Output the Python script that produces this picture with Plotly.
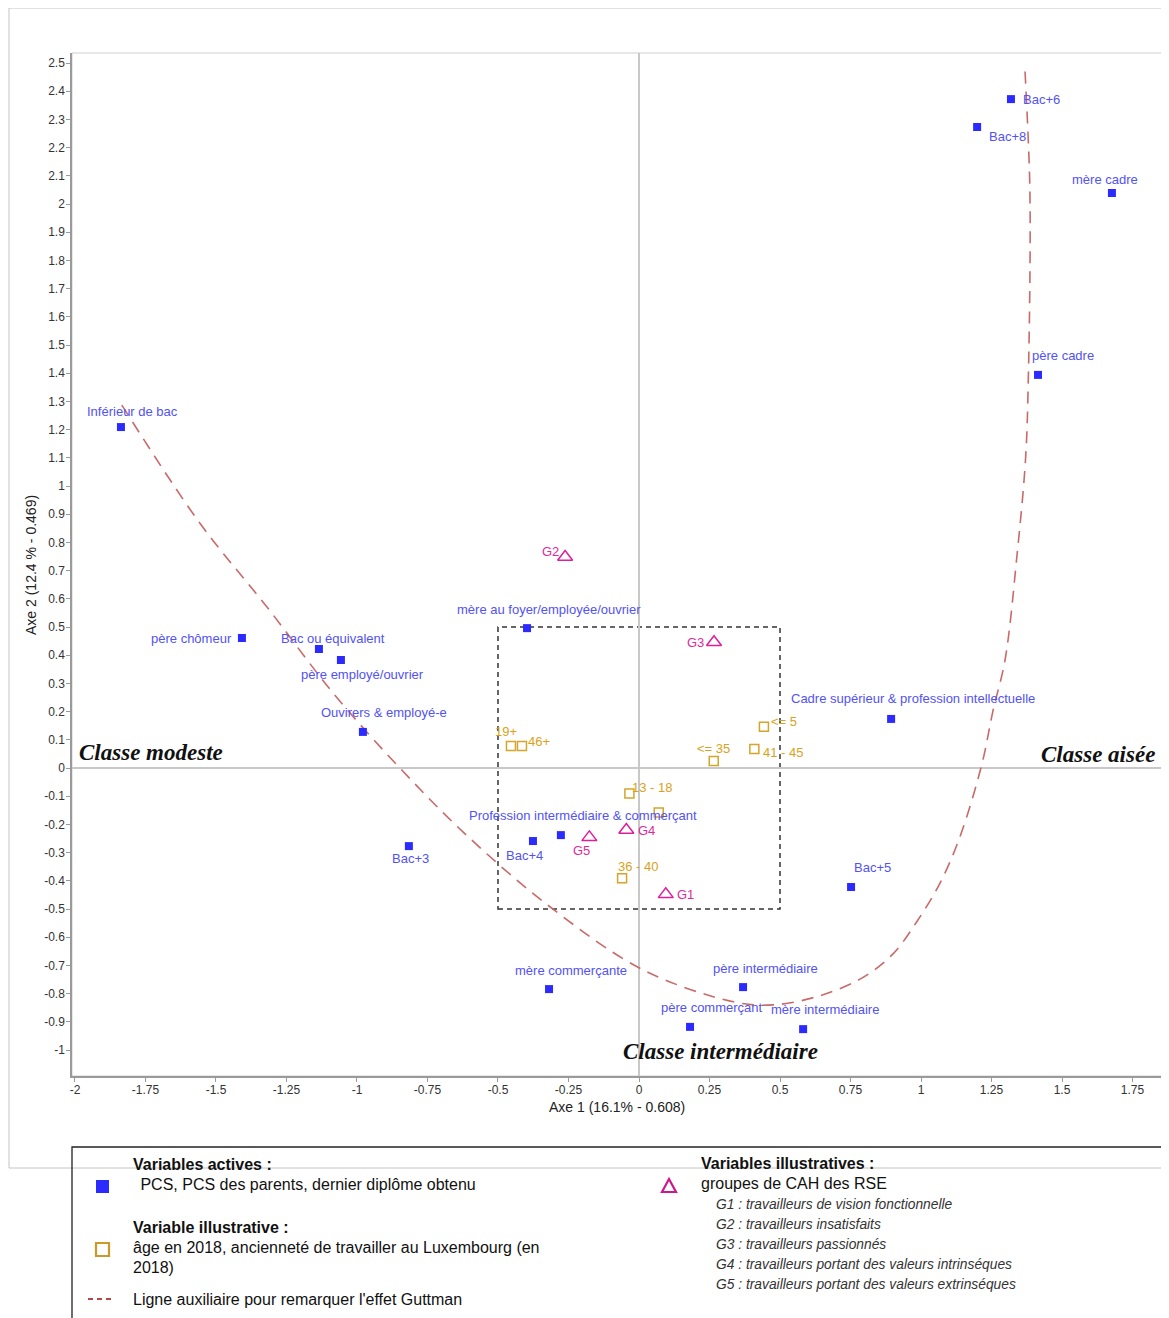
import plotly.graph_objects as go

# ---------------- data ----------------
active_names = ["Inférieur de bac", "Bac+6", "Bac+8", "mère cadre", "père cadre",
                "père chômeur", "Bac ou équivalent", "père employé/ouvrier",
                "Ouvirers & employé-e", "mère au foyer/employée/ouvrier",
                "Cadre supérieur & profession intellectuelle", "Bac+3", "Bac+4",
                "Profession intermédiaire & commerçant", "Bac+5", "mère commerçante",
                "père intermédiaire", "père commerçant", "mère intermédiaire"]
active_x = [-1.837, 1.319, 1.199, 1.677, 1.415, -1.408, -1.135, -1.057, -0.979, -0.397,
            0.894, -0.816, -0.376, -0.277, 0.752, -0.319, 0.369, 0.181, 0.582]
active_y = [1.209, 2.372, 2.273, 2.039, 1.394, 0.461, 0.422, 0.383, 0.128, 0.496,
            0.174, -0.277, -0.259, -0.238, -0.422, -0.784, -0.777, -0.918, -0.926]

age_names = ["19+", "46+", "<= 5", "41 - 45", "<= 35", "13 - 18", "", "36 - 40"]
age_x = [-0.454, -0.415, 0.443, 0.409, 0.265, -0.034, 0.070, -0.060]
age_y = [0.078, 0.078, 0.146, 0.067, 0.025, -0.090, -0.158, -0.391]

group_names = ["G2", "G3", "G4", "G5", "G1"]
group_x = [-0.262, 0.266, -0.045, -0.176, 0.095]
group_y = [0.748, 0.446, -0.220, -0.246, -0.448]

guttman_x = [-1.834, -1.557, -1.320, -1.084, -0.848, -0.612, -0.316, 0.015, 0.335, 0.476,
             0.640, 0.790, 0.900, 0.985, 1.067, 1.138, 1.215, 1.256, 1.298, 1.340,
             1.371, 1.381, 1.387, 1.385, 1.369]
guttman_y = [1.287, 0.868, 0.572, 0.265, 0.0, -0.238, -0.492, -0.716, -0.829, -0.840,
             -0.808, -0.745, -0.660, -0.545, -0.409, -0.244, 0.010, 0.206, 0.383, 0.750,
             1.100, 1.400, 1.870, 2.100, 2.470]

x_tickvals = [-2, -1.75, -1.5, -1.25, -1, -0.75, -0.5, -0.25, 0, 0.25, 0.5, 0.75, 1, 1.25, 1.5, 1.75]
x_ticktext = ["-2", "-1.75", "-1.5", "-1.25", "-1", "-0.75", "-0.5", "-0.25", "0",
              "0.25", "0.5", "0.75", "1", "1.25", "1.5", "1.75"]
y_tickvals = [round(-1 + 0.1 * i, 1) for i in range(36)]
y_ticktext = [("%g" % v) for v in y_tickvals]

# ---------------- label placement (styles) ----------------
active_lbl = [("center", 12, 16), ("left", 10, 0), ("left", 10, -9), ("center", -7, 14),
              ("left", -8, 19), ("right", -8, 0), ("center", 14, 11), ("center", 22, -14),
              ("center", 21, 19), ("center", 22, 19), ("center", 22, 20), ("center", 2, -12),
              ("center", -8, -14), ("center", 22, 20), ("center", 21, 20), ("center", 22, 19),
              ("center", 22, 19), ("center", 22, 19), ("center", 22, 20)]
age_lbl = [("center", -5, 15), ("left", 4, 5), ("left", 5, 5), ("left", 7, -3),
           ("center", 0, 12), ("left", 1, 6), ("left", 0, 0), ("center", 16, 12)]
group_lbl = [("right", -4, 6), ("right", -8, 0), ("left", 10, 0), ("center", -8, -13),
             ("left", 9, 0)]

BLUE_M = "#2b2bff"
BLUE_T = "#5252f5"
GOLD_M = "#d4a52a"
GOLD_T = "#d9a21c"
MAG_M = "#dd1f9b"
MAG_T = "#dd2a9c"
RED = "#c96a6a"
FONT = "Liberation Sans, Arial, sans-serif"

# page is offset by the 8px body margin
OFF = 8
W, H = 1169 - OFF, 1318 - OFF
L, R, T, B = 72 - OFF, 7, 53 - OFF, 242
PW, PH = W - L - R, H - T - B


def px(xp, yp):
    # page pixel -> paper coords
    return (xp - OFF - L) / PW, (H - B - (yp - OFF)) / PH


fig = go.Figure()

fig.add_trace(go.Scatter(x=guttman_x, y=guttman_y, mode="lines",
                         line=dict(color=RED, width=1.6, dash="12px,8px", shape="spline", smoothing=1.0),
                         hoverinfo="skip", showlegend=False))
fig.add_trace(go.Scatter(x=active_x, y=active_y, mode="markers", text=active_names,
                         marker=dict(symbol="square", size=8, color=BLUE_M),
                         showlegend=False))
fig.add_trace(go.Scatter(x=age_x, y=age_y, mode="markers", text=age_names,
                         marker=dict(symbol="square-open", size=9, color=GOLD_M, line=dict(width=1.5)),
                         showlegend=False))
fig.add_trace(go.Scatter(x=group_x, y=group_y, mode="markers", text=group_names,
                         marker=dict(symbol="triangle-up-open", size=13, color=MAG_M, line=dict(width=1.5)),
                         showlegend=False))

ann = []
for names, xs, ys, lbl, col in [(active_names, active_x, active_y, active_lbl, BLUE_T),
                                (age_names, age_x, age_y, age_lbl, GOLD_T),
                                (group_names, group_x, group_y, group_lbl, MAG_T)]:
    for n, x, y, (a, dx, dy) in zip(names, xs, ys, lbl):
        if not n:
            continue
        ann.append(dict(x=x, y=y, text=n, showarrow=False, xanchor=a, yanchor="middle",
                        xshift=dx, yshift=dy, font=dict(family=FONT, size=13, color=col)))

# quadrant labels
qfont = dict(family="Liberation Serif, Times New Roman, serif", size=23, color="#111")
ann.append(dict(x=-2.0, y=0, text="<b><i>Classe modeste</i></b>", showarrow=False,
                xanchor="left", yanchor="middle", xshift=2, yshift=16, font=qfont))
ann.append(dict(x=1.838, y=0, text="<b><i>Classe aisée</i></b>", showarrow=False,
                xanchor="right", yanchor="middle", yshift=14, font=qfont))
ann.append(dict(x=0.29, y=-1.004, text="<b><i>Classe intermédiaire</i></b>", showarrow=False,
                xanchor="center", yanchor="middle", font=qfont))

# axis titles
tx, ty = px(617, 1107)
ann.append(dict(x=tx, y=ty, xref="paper", yref="paper", text="Axe 1 (16.1% - 0.608)",
                showarrow=False, xanchor="center", yanchor="middle",
                font=dict(family=FONT, size=14, color="#222")))
tx, ty = px(31, 565)
ann.append(dict(x=tx, y=ty, xref="paper", yref="paper", text="Axe 2 (12.4 % - 0.469)",
                showarrow=False, xanchor="center", yanchor="middle", textangle=-90,
                font=dict(family=FONT, size=14, color="#222")))


# legend texts
def ltext(xp, yp, text, size=16, color="#111", anchor="left"):
    x, y = px(xp, yp)
    ann.append(dict(x=x, y=y, xref="paper", yref="paper", text=text, showarrow=False,
                    xanchor=anchor, yanchor="middle",
                    font=dict(family=FONT, size=size, color=color)))


ltext(131, 1164, "<b>Variables actives :</b>")
ltext(134, 1184, " PCS, PCS des parents, dernier diplôme obtenu")
ltext(131, 1227, "<b>Variable illustrative :</b>")
ltext(131, 1247, "âge en 2018, ancienneté de travailler au Luxembourg (en")
ltext(131, 1267, "2018)")
ltext(131, 1299, "Ligne auxiliaire pour remarquer l'effet Guttman")
ltext(699, 1163, "<b>Variables illustratives :</b>")
ltext(699, 1183, "groupes de CAH des RSE")
for i, t in enumerate(["G1 : travailleurs de vision fonctionnelle",
                       "G2 : travailleurs insatisfaits",
                       "G3 : travailleurs passionnés",
                       "G4 : travailleurs portant des valeurs intrinséques",
                       "G5 : travailleurs portant des valeurs extrinséques"]):
    ltext(714, 1204 + 20 * i, "<i>" + t + "</i>", size=13.8, color="#333")

shapes = []
# dashed box
shapes.append(dict(type="rect", xref="x", yref="y", x0=-0.5, x1=0.5, y0=-0.5, y1=0.5,
                   line=dict(color="#333", width=1.5, dash="5px,4px"), layer="below"))
# top/right frame of plot
shapes.append(dict(type="rect", xref="paper", yref="paper", x0=0, x1=1, y0=0, y1=1,
                   line=dict(color="#cfcfcf", width=1), layer="below"))


def prect(x0, y0, x1, y1, **kw):
    a, b = px(x0, y0)
    c, d = px(x1, y1)
    shapes.append(dict(type="rect", xref="paper", yref="paper", x0=a, x1=c, y0=d, y1=b, **kw))


# outer frame
prect(9, 8, 1167.5, 1168, line=dict(color="#c4c4c4", width=1))
# legend frame
prect(72, 1147, 1163, 1345, line=dict(color="#222", width=1.3))
# legend markers
prect(96, 1180, 109, 1193, line=dict(width=0), fillcolor=BLUE_M)
prect(96, 1243, 109, 1256, line=dict(color="#c89a28", width=2.2), fillcolor="white")
a, b = px(88, 1299)
c, d = px(114, 1299)
shapes.append(dict(type="line", xref="paper", yref="paper", x0=a, x1=c, y0=b, y1=d,
                   line=dict(color="#b04848", width=2, dash="5px,4px")))
p1, p2, p3 = px(662, 1192), px(676, 1192), px(669, 1179)
shapes.append(dict(type="path", xref="paper", yref="paper",
                   path=f"M {p1[0]} {p1[1]} L {p2[0]} {p2[1]} L {p3[0]} {p3[1]} Z",
                   line=dict(color="#cc1a8c", width=2.2)))

fig.update_layout(
    width=W, height=H,
    margin=dict(l=L, r=R, t=T, b=B),
    paper_bgcolor="white", plot_bgcolor="white",
    showlegend=False,
    annotations=ann, shapes=shapes,
    xaxis=dict(range=[-2.0106, 1.8546], tickvals=x_tickvals, ticktext=x_ticktext,
               showgrid=False, zeroline=True, zerolinecolor="#c8c8c8", zerolinewidth=1.5,
               showline=True, linecolor="#9a9a9a", linewidth=1.5,
               ticks="outside", ticklen=4, tickcolor="#9a9a9a", ticklabelstandoff=-2,
               tickfont=dict(family=FONT, size=12, color="#333")),
    yaxis=dict(range=[-1.0922, 2.5355], tickvals=y_tickvals, ticktext=y_ticktext,
               showgrid=False, zeroline=True, zerolinecolor="#c8c8c8", zerolinewidth=1.5,
               showline=True, linecolor="#9a9a9a", linewidth=1.5,
               ticks="outside", ticklen=4, tickcolor="#9a9a9a", ticklabelstandoff=-1,
               tickfont=dict(family=FONT, size=12, color="#333")),
)

fig.write_html("out.html")
